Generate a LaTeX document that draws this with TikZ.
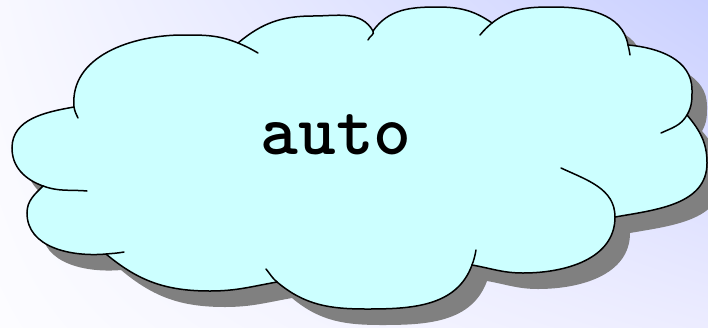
\documentclass[tikz,border=0pt]{standalone}
\usepackage{fontspec}
\usetikzlibrary{shadings}
\definecolor{bgUL}{RGB}{248,248,255}
\definecolor{bgUR}{RGB}{202,208,255}
\definecolor{bgLL}{RGB}{252,252,255}
\definecolor{bgLR}{RGB}{236,236,255}
\definecolor{cloudfill}{RGB}{204,255,255}
\definecolor{shadowgray}{RGB}{128,128,128}
\tikzset{
  cloudline/.style={draw=black, line width=1.5pt, line cap=round},
  cloudbody/.style={fill=cloudfill},
  cloudshadow/.style={fill=shadowgray},
  cloudlabel/.style={font=\ttfamily\bfseries\fontsize{72}{72}\selectfont, inner sep=0pt, anchor=base}
}
\def\cloudpath{(74,-107) to[out=95,in=180] (183,-35) to[out=0,in=158] (238,-43)
 to[out=40,in=180] (313,-16) to[out=0,in=120] (373,-31)
 to[out=55,in=180] (437,-7) to[out=0,in=145] (492,-23)
 to[out=38,in=180] (553,-7) to[out=0,in=100] (628,-45)
 to[out=-5,in=90] (692,-90) to[out=-90,in=60] (687,-115)
 to[out=-50,in=90] (707,-163) to[out=-90,in=10] (615,-217)
 to[out=-90,in=0] (523,-273) to[out=180,in=-10] (472,-265)
 to[out=-110,in=0] (367,-309) to[out=180,in=-40] (277,-282)
 to[out=190,in=0] (210,-291) to[out=180,in=-40] (106,-254)
 to[out=185,in=-90] (27,-213) to[out=90,in=225] (43,-186)
 to[out=160,in=-90] (12,-148) to[out=90,in=190] (74,-107) -- cycle}
\begin{document}
\begin{tikzpicture}[x=1pt,y=1pt]
\useasboundingbox (0,0) rectangle (708,-327);
\shade[upper left=bgUL, upper right=bgUR, lower left=bgLL, lower right=bgLR] (0,0) rectangle (708,-327);
\fill[cloudshadow, shift={(15,-16)}] \cloudpath;
\path[cloudbody] \cloudpath;
\draw[cloudline, line join=miter] \cloudpath;
% tails
\draw[cloudline] (74,-107) to[out=-80,in=115] (78,-118);
\draw[cloudline] (238,-43) to[out=-22,in=150] (258,-53);
\draw[cloudline] (373,-31) to[out=-60,in=70] (368,-40);
\draw[cloudline] (480,-35) to[out=50,in=220] (492,-23);
\draw[cloudline] (628,-45) to[out=-80,in=95] (630,-55);
\draw[cloudline] (687,-115) to[out=-120,in=25] (661,-133);
\draw[cloudline] (561,-168) to[out=-25,in=90] (615,-217);
\draw[cloudline] (476,-250) to[out=-100,in=70] (472,-265);
\draw[cloudline] (277,-282) to[out=140,in=-50] (266,-269);
\draw[cloudline] (124,-252) to[out=190,in=5] (106,-254);
\draw[cloudline] (87,-191) to[out=175,in=-20] (43,-186);
\node[cloudlabel] (label) at (336,-154) {auto};
\end{tikzpicture}
\end{document}
